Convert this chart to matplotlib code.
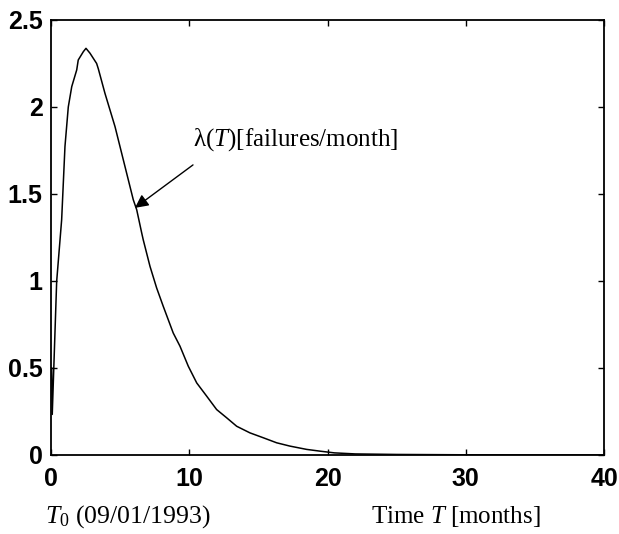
import matplotlib
matplotlib.use('Agg')
import matplotlib.pyplot as plt
from matplotlib.ticker import FormatStrFormatter

plt.rcParams['mathtext.fontset'] = 'custom'
plt.rcParams['mathtext.rm'] = 'Liberation Serif'
plt.rcParams['mathtext.it'] = 'Liberation Serif:italic'

# failure intensity (months, failures/month)
months = [0.05, 0.09, 0.41, 0.77, 1.01, 1.25, 1.50, 1.86, 1.97, 2.34, 2.53, 2.82,
          3.30, 3.42, 3.90, 4.63, 5.35, 5.95, 6.20, 6.56, 6.67, 7.16, 7.64, 8.12,
          8.84, 9.33, 9.93, 10.54, 11.26, 11.98, 12.70, 13.43, 14.39, 15.35,
          16.32, 17.28, 18.49, 19.45, 20.5, 22, 25, 30, 35, 40]
rate = [0.5, 0.233, 0.998, 1.352, 1.773, 2.0, 2.117, 2.213, 2.27, 2.318, 2.337, 2.309,
        2.25, 2.22, 2.079, 1.887, 1.658, 1.467, 1.409, 1.276, 1.237, 1.084, 0.96, 0.854,
        0.701, 0.625, 0.510, 0.414, 0.338, 0.261, 0.214, 0.165, 0.127, 0.099,
        0.070, 0.051, 0.032, 0.022, 0.012, 0.006, 0.003, 0.001, 0, 0]

x_ticks = [0, 10, 20, 30, 40]
y_ticks = [0, 0.5, 1, 1.5, 2, 2.5]

fig = plt.figure(figsize=(6.19, 5.34), dpi=100)
ax = fig.add_axes([0.0824, 0.148, 0.8934, 0.8146])

ax.plot(months, rate, color='black', linewidth=1.1)
ax.set_xlim(0, 40)
ax.set_ylim(0, 2.5)
ax.set_xticks(x_ticks)
ax.set_yticks(y_ticks)
ax.yaxis.set_major_formatter(FormatStrFormatter('%g'))

for spine in ax.spines.values():
    spine.set_linewidth(1.3)
ax.tick_params(direction='in', length=4.5, width=1, top=True, right=True)
ax.tick_params(axis='x', pad=9)
ax.tick_params(axis='y', pad=6)
for lbl in ax.get_xticklabels() + ax.get_yticklabels():
    lbl.set_fontfamily('Liberation Sans')
    lbl.set_fontweight('bold')
    lbl.set_fontsize(18)

# label and arrow are placed separately so the tail sits below the text
ax.text(10.25, 1.78, '\u03bb' + r'$(T)$' + '[failures/month]',
        ha='left', va='baseline', fontsize=18, family='Liberation Serif')
ax.annotate('', xy=(6.07, 1.42), xytext=(10.27, 1.667),
            arrowprops=dict(arrowstyle='-|>', color='black', lw=1.0,
                            mutation_scale=20, shrinkA=0, shrinkB=0))

fig.text(45 / 619, 1 - 523 / 534, r'$T_{\mathit{0}}$ (09/01/1993)',
         ha='left', va='baseline', fontsize=18.5, family='Liberation Serif')
fig.text(371 / 619, 1 - 523 / 534, r'Time $T$ [months]',
         ha='left', va='baseline', fontsize=18, family='Liberation Serif')

plt.savefig('out.png', dpi=100, facecolor='white')
plt.close()
